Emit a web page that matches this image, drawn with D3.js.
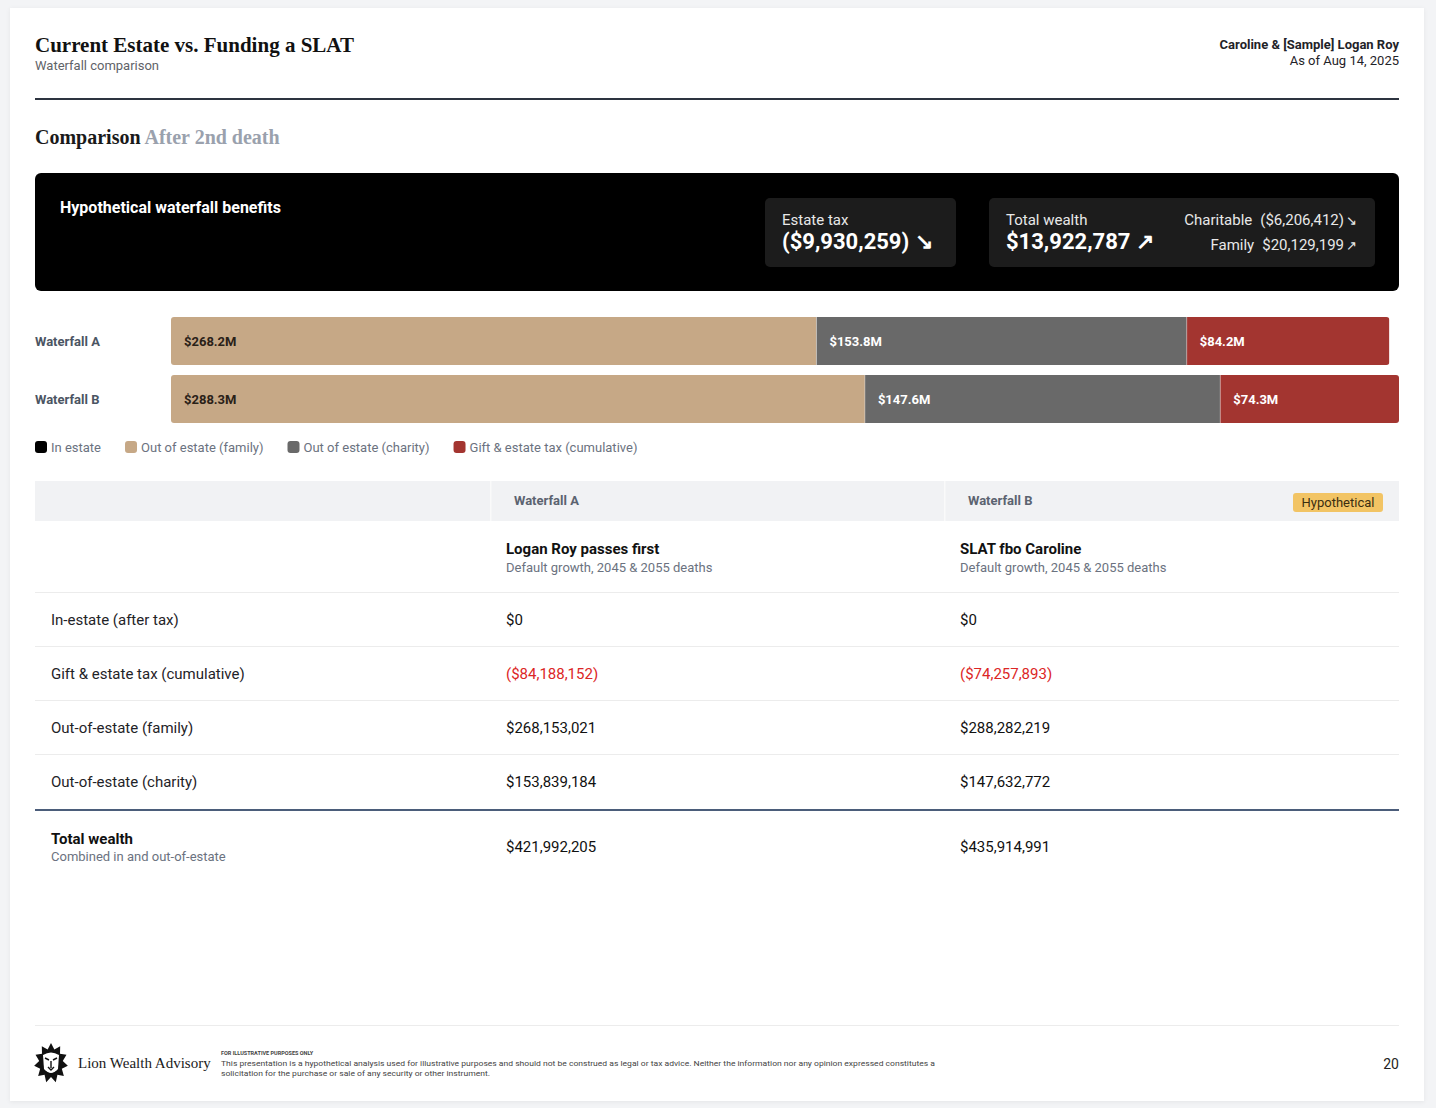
<!DOCTYPE html>
<html>
<head>
<meta charset="UTF-8">
<title>Current Estate vs. Funding a SLAT</title>
<script src="https://cdn.jsdelivr.net/npm/d3@7"></script>
<style>
  html, body { margin: 0; padding: 0; background: #f3f4f6; }
  svg text { font-family: Roboto, "Noto Sans", sans-serif; }
  .serif { font-family: "Liberation Serif", "DejaVu Serif", serif; }
</style>
</head>
<body>
<div id="page"></div>
<script>
// ---- data ----
const scenarios = ["Waterfall A", "Waterfall B"];
const scenarioTitles = ["Logan Roy passes first", "SLAT fbo Caroline"];
const scenarioNotes = ["Default growth, 2045 & 2055 deaths", "Default growth, 2045 & 2055 deaths"];
const categories = ["In estate", "Out of estate (family)", "Out of estate (charity)", "Gift & estate tax (cumulative)"];
const catColors = ["#000000", "#c6a886", "#696969", "#a33530"];
const inEstate = [0, 0];
const family = [268153021, 288282219];
const charity = [153839184, 147632772];
const tax = [84188152, 74257893];
const totalWealth = [421992205, 435914991];
const rowLabels = ["In-estate (after tax)", "Gift & estate tax (cumulative)", "Out-of-estate (family)", "Out-of-estate (charity)"];
const estateTaxDelta = -9930259;
const totalWealthDelta = 13922787;
const charitableDelta = -6206412;
const familyDelta = 20129199;

const W = 1436, H = 1108;
const L = 35, R = 1399;
const svg = d3.select("#page").append("svg").attr("width", W).attr("height", H);

const money = v => (v < 0 ? "($" + d3.format(",")(-v) + ")" : "$" + d3.format(",")(v));
const mShort = v => "$" + (v / 1e6).toFixed(1) + "M";
const arrow = v => (v < 0 ? "\u2198" : "\u2197");

// card
svg.append("rect").attr("x", 10).attr("y", 8).attr("width", 1414).attr("height", 1093)
  .attr("fill", "#fff").style("filter", "drop-shadow(0 1px 2px rgba(0,0,0,0.06))");

// header
svg.append("text").attr("class", "serif").attr("x", L).attr("y", 52)
  .style("font-size", "21px").style("font-weight", 700).attr("fill", "#111")
  .text("Current Estate vs. Funding a SLAT");
svg.append("text").attr("x", L).attr("y", 70).style("font-size", "13px").attr("fill", "#5f6368")
  .text("Waterfall comparison");
svg.append("text").attr("x", R).attr("y", 49).attr("text-anchor", "end")
  .style("font-size", "13px").style("font-weight", 700).attr("fill", "#1f2328")
  .text("Caroline & [Sample] Logan Roy");
svg.append("text").attr("x", R).attr("y", 65).attr("text-anchor", "end")
  .style("font-size", "13px").attr("fill", "#1f2328").text("As of Aug 14, 2025");
svg.append("rect").attr("x", L).attr("y", 98).attr("width", R - L).attr("height", 2).attr("fill", "#2d3440");

const sub = svg.append("text").attr("class", "serif").attr("x", L).attr("y", 144)
  .style("font-size", "20px").style("font-weight", 700);
sub.append("tspan").attr("fill", "#1a1a1a").text("Comparison ");
sub.append("tspan").attr("fill", "#9aa1ad").text("After 2nd death");

// summary panel
svg.append("rect").attr("x", L).attr("y", 173).attr("width", R - L).attr("height", 118).attr("rx", 6).attr("fill", "#000");
svg.append("text").attr("x", 60).attr("y", 213).style("font-size", "16px").style("font-weight", 700)
  .attr("fill", "#fff").text("Hypothetical waterfall benefits");

svg.append("rect").attr("x", 765).attr("y", 198).attr("width", 191).attr("height", 69).attr("rx", 5).attr("fill", "#1c1c1c");
svg.append("text").attr("x", 782).attr("y", 225).style("font-size", "15px").attr("fill", "#e8e8e8").text("Estate tax");
svg.append("text").attr("x", 782).attr("y", 249).style("font-size", "22px").style("font-weight", 700).attr("fill", "#fff")
  .text(money(estateTaxDelta) + " " + arrow(estateTaxDelta));

svg.append("rect").attr("x", 989).attr("y", 198).attr("width", 386).attr("height", 69).attr("rx", 5).attr("fill", "#1c1c1c");
svg.append("text").attr("x", 1006).attr("y", 225).style("font-size", "15px").attr("fill", "#e8e8e8").text("Total wealth");
svg.append("text").attr("x", 1006).attr("y", 249).style("font-size", "22px").style("font-weight", 700).attr("fill", "#fff")
  .text(money(totalWealthDelta) + " " + arrow(totalWealthDelta));
[["Charitable", charitableDelta, 225], ["Family", familyDelta, 250]].forEach(([lab, v, y]) => {
  const t = svg.append("text").attr("x", 1357).attr("y", y).attr("text-anchor", "end")
    .style("font-size", "15px").attr("fill", "#e8e8e8");
  t.append("tspan").text(lab);
  t.append("tspan").attr("dx", 8).text(money(v));
  t.append("tspan").attr("dx", 2).style("font-size", "13px").text(arrow(v));
});

// stacked bars
const series = [inEstate, family, charity, tax];
const rows = scenarios.map((s, i) => {
  let x0 = 0;
  return series.map((arr, c) => {
    const seg = { scen: s, cat: c, v: arr[i], x0: x0 };
    x0 += arr[i];
    seg.x1 = x0;
    return seg;
  });
});
const barMax = d3.max(rows, r => r[r.length - 1].x1);
const x = d3.scaleLinear().domain([0, barMax]).range([171, R]);
const y = d3.scaleBand().domain(scenarios).range([317, 423]).paddingInner(0.17);

const bars = svg.append("g");
scenarios.forEach((s, i) => {
  const segs = rows[i].filter(d => d.v > 0);
  const clipId = "clip" + i;
  bars.append("clipPath").attr("id", clipId).append("rect")
    .attr("x", x(0)).attr("y", y(s)).attr("width", x(segs[segs.length - 1].x1) - x(0))
    .attr("height", y.bandwidth()).attr("rx", 3);
  const g = bars.append("g").attr("clip-path", "url(#" + clipId + ")");
  g.selectAll("rect").data(segs).join("rect")
    .attr("x", d => x(d.x0)).attr("y", y(s))
    .attr("width", d => x(d.x1) - x(d.x0)).attr("height", y.bandwidth())
    .attr("fill", d => catColors[d.cat]);
  g.selectAll("line").data(segs.slice(1)).join("line")
    .attr("x1", d => x(d.x0)).attr("x2", d => x(d.x0))
    .attr("y1", y(s)).attr("y2", y(s) + y.bandwidth())
    .attr("stroke", "rgba(255,255,255,0.35)");
  bars.selectAll(null).data(segs).join("text")
    .attr("x", d => x(d.x0) + 13).attr("y", y(s) + y.bandwidth() / 2).attr("dy", "0.35em")
    .style("font-size", "13px").style("font-weight", 700)
    .attr("fill", d => d.cat === 1 ? "#2a2118" : "#fff")
    .text(d => mShort(d.v));
  bars.append("text").attr("x", L).attr("y", y(s) + y.bandwidth() / 2).attr("dy", "0.35em")
    .style("font-size", "13px").style("font-weight", 700).attr("fill", "#4b5563").text(s);
});

// legend
const leg = svg.append("g").attr("transform", "translate(" + L + ",447)");
let lx = 0;
categories.forEach((c, i) => {
  const g = leg.append("g").attr("transform", "translate(" + lx + ",0)");
  g.append("rect").attr("x", 0).attr("y", -6).attr("width", 12).attr("height", 12).attr("rx", 3).attr("fill", catColors[i]);
  const t = g.append("text").attr("x", 16).attr("dy", "0.35em").style("font-size", "13px").attr("fill", "#6b7280").text(c);
  lx += 16 + t.node().getComputedTextLength() + 24;
});

// table
const colX = [L, 490, 944];
const tb = svg.append("g");
tb.append("rect").attr("x", L).attr("y", 481).attr("width", R - L).attr("height", 40).attr("fill", "#f1f2f4");
colX.slice(1).forEach(cx => tb.append("rect").attr("x", cx).attr("y", 481).attr("width", 1.5).attr("height", 40).attr("fill", "#fafafa"));
scenarios.forEach((s, i) => {
  tb.append("text").attr("x", colX[i + 1] + 24).attr("y", 505).style("font-size", "13px").style("font-weight", 700)
    .attr("fill", "#5b6370").text(s);
  tb.append("text").attr("x", colX[i + 1] + 16).attr("y", 554).style("font-size", "15px").style("font-weight", 700)
    .attr("fill", "#111").text(scenarioTitles[i]);
  tb.append("text").attr("x", colX[i + 1] + 16).attr("y", 572).style("font-size", "13px")
    .attr("fill", "#6b7280").text(scenarioNotes[i]);
});
tb.append("rect").attr("x", 1293).attr("y", 493).attr("width", 90).attr("height", 19).attr("rx", 3).attr("fill", "#f2c464");
tb.append("text").attr("x", 1338).attr("y", 507).attr("text-anchor", "middle").style("font-size", "13px")
  .attr("fill", "#3a2e10").text("Hypothetical");
tb.append("rect").attr("x", L).attr("y", 592).attr("width", R - L).attr("height", 1).attr("fill", "#ececec");

const tableVals = [inEstate, tax.map(v => -v), family, charity];
const rowY = d3.scaleBand().domain(rowLabels).range([593, 809]);
rowLabels.forEach((lab, r) => {
  const yc = rowY(lab) + rowY.bandwidth() / 2;
  tb.append("text").attr("x", 51).attr("y", yc).attr("dy", "0.35em").style("font-size", "15px")
    .attr("fill", "#1f2328").text(lab);
  scenarios.forEach((s, i) => {
    const v = tableVals[r][i];
    tb.append("text").attr("x", colX[i + 1] + 16).attr("y", yc).attr("dy", "0.35em").style("font-size", "15px")
      .attr("fill", v < 0 ? "#dc2626" : "#111").text(money(v));
  });
  if (r < rowLabels.length - 1)
    tb.append("rect").attr("x", L).attr("y", rowY(lab) + rowY.bandwidth() - 1).attr("width", R - L).attr("height", 1).attr("fill", "#ececec");
});
tb.append("rect").attr("x", L).attr("y", 809).attr("width", R - L).attr("height", 2).attr("fill", "#4b5d7a");
tb.append("text").attr("x", 51).attr("y", 844).style("font-size", "15px").style("font-weight", 700).attr("fill", "#111").text("Total wealth");
tb.append("text").attr("x", 51).attr("y", 861).style("font-size", "13px").attr("fill", "#6b7280").text("Combined in and out-of-estate");
scenarios.forEach((s, i) => {
  tb.append("text").attr("x", colX[i + 1] + 16).attr("y", 852).style("font-size", "15px").attr("fill", "#111").text(money(totalWealth[i]));
});

// footer
svg.append("rect").attr("x", L).attr("y", 1025).attr("width", R - L).attr("height", 1).attr("fill", "#ececec");
const logo = svg.append("g").attr("transform", "translate(51,1063)");
const mane = d3.range(22).map(k => {
  const a = k / 22 * Math.PI * 2;
  const r = k % 2 ? 14 : 20;
  return [Math.sin(a) * r * 0.85, -Math.cos(a) * r];
});
logo.append("path").attr("d", d3.line().curve(d3.curveLinearClosed)(mane)).attr("fill", "#111");
logo.append("path").attr("d", "M-8,-8 Q0,-13 8,-8 L7,6 Q0,14 -7,6 Z").attr("fill", "#fff");
logo.append("path").attr("d", "M-6,-5 L-2,-3 M6,-5 L2,-3 M-3,4 L0,7 L3,4 M0,-2 L0,5 M-5,9 L0,12 L5,9").attr("stroke", "#111").attr("stroke-width", 1.4).attr("fill", "none");
svg.append("text").attr("class", "serif").attr("x", 78).attr("y", 1068).style("font-size", "15px").attr("fill", "#1a1a1a")
  .text("Lion Wealth Advisory");
svg.append("text").attr("x", 221).attr("y", 1055).style("font-size", "5.5px").style("font-weight", 700).attr("fill", "#444")
  .text("FOR ILLUSTRATIVE PURPOSES ONLY");
svg.append("text").attr("x", 221).attr("y", 1066).style("font-size", "7.5px").attr("fill", "#444")
  .attr("textLength", 714).attr("lengthAdjust", "spacingAndGlyphs")
  .text("This presentation is a hypothetical analysis used for illustrative purposes and should not be construed as legal or tax advice. Neither the information nor any opinion expressed constitutes a");
svg.append("text").attr("x", 221).attr("y", 1076).style("font-size", "7.5px").attr("fill", "#444")
  .attr("textLength", 269).attr("lengthAdjust", "spacingAndGlyphs")
  .text("solicitation for the purchase or sale of any security or other instrument.");
svg.append("text").attr("x", R).attr("y", 1069).attr("text-anchor", "end").style("font-size", "14px").attr("fill", "#222").text("20");
</script>
</body>
</html>
